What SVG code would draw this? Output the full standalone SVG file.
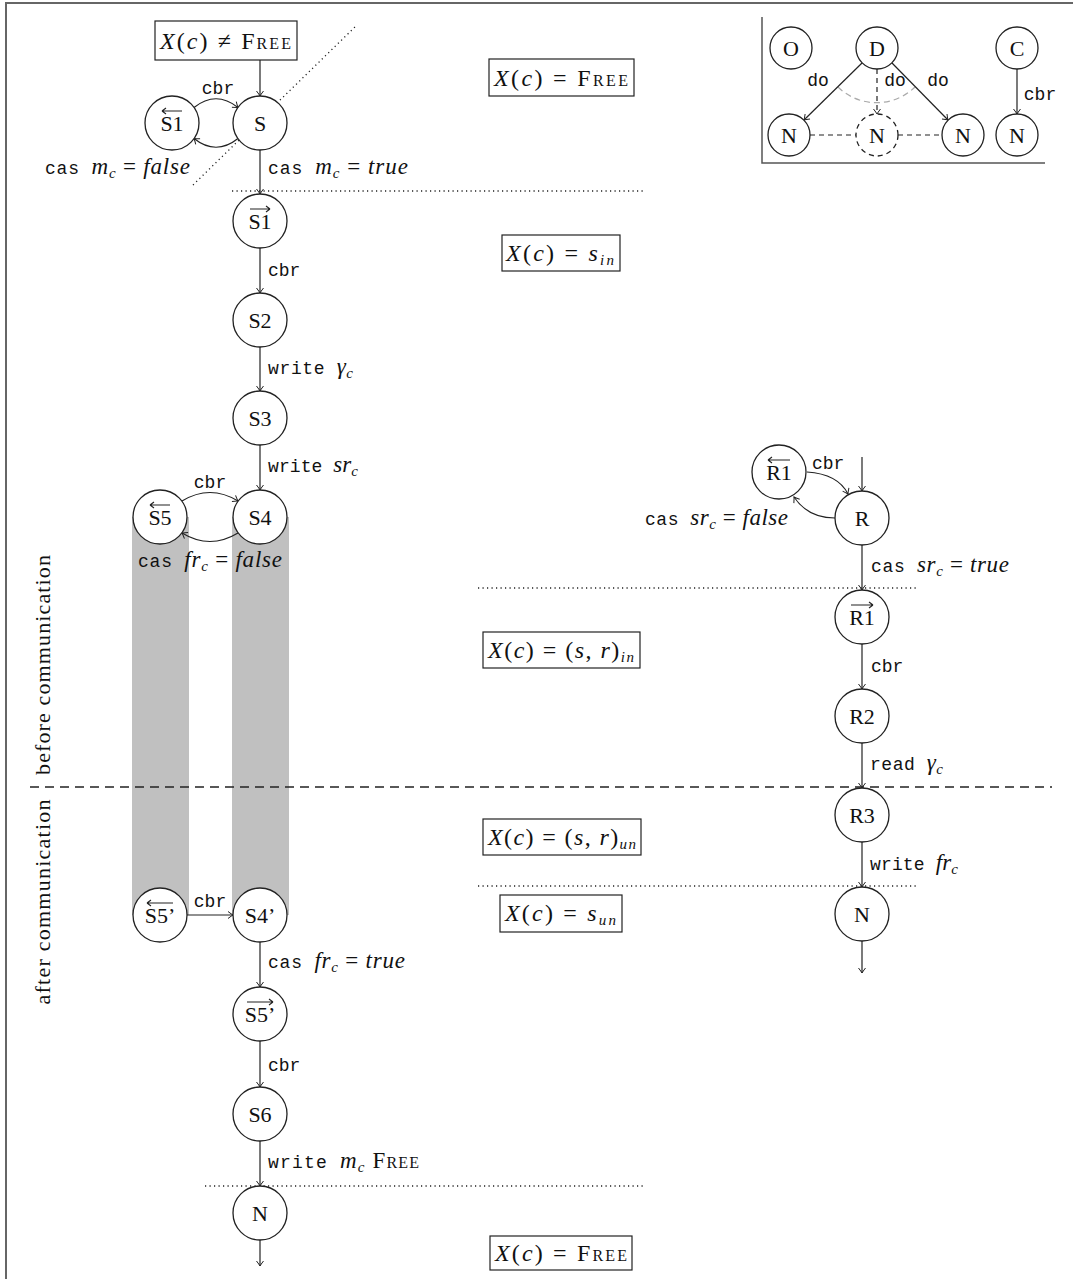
<svg xmlns="http://www.w3.org/2000/svg" width="1073" height="1279" viewBox="0 0 1073 1279">
<style>
.nd{fill:#fff;stroke:#222;stroke-width:1.3}
.ndd{fill:#fff;stroke:#222;stroke-width:1.3;stroke-dasharray:5 4}
.nl{font-family:"Liberation Serif","DejaVu Serif",serif;font-size:22px;fill:#111;text-anchor:middle}
.ed{fill:none;stroke:#222;stroke-width:1.2;marker-end:url(#ah)}
.edd{fill:none;stroke:#222;stroke-width:1.2;stroke-dasharray:5 4}
.dot{fill:none;stroke:#222;stroke-width:1.3;stroke-dasharray:1.2 3.3}
.dash{fill:none;stroke:#222;stroke-width:1.4;stroke-dasharray:9 6}
.oa{fill:none;stroke:#222;stroke-width:1.1}
.mono{font-family:"Liberation Mono","DejaVu Sans Mono",monospace;font-size:18px;fill:#111}
.lb{font-family:"Liberation Serif","DejaVu Serif",serif;font-size:23px;fill:#111}
.rot{font-family:"Liberation Serif","DejaVu Serif",serif;font-size:22px;fill:#111}
.bx{font-family:"Liberation Serif","DejaVu Serif",serif;font-size:24px;fill:#111}
.it{font-style:italic}
.sub{font-size:15px}
.sc{font-size:16px}
.box{fill:#fff;stroke:#222;stroke-width:1.2}
.bar{fill:#c0c0c0}
.frame{fill:none;stroke:#666;stroke-width:2}
</style>
<defs>
<marker id="ah" viewBox="-6 -5 8 10" markerWidth="8" markerHeight="10" refX="0" refY="0" orient="auto" markerUnits="userSpaceOnUse">
<path d="M-5,-3.5 Q-1.5,-0.8 0,0 Q-1.5,0.8 -5,3.5" fill="none" stroke="#222" stroke-width="1"/>
</marker>
</defs>

<path class="frame" d="M6,1279 V3 H1073"/>

<g id="bars">
<rect class="bar" x="132" y="517" width="57" height="398"/>
<rect class="bar" x="232" y="517" width="57" height="398"/>
</g>

<g id="separators">
<path class="dot" d="M193,185 L357,25"/>
<path class="dot" d="M232,191 H643"/>
<path class="dot" d="M478,588 H918"/>
<path class="dot" d="M478,886 H918"/>
<path class="dot" d="M205,1186 H643"/>
<path class="dash" d="M30,787 H1052"/>
</g>

<g id="legend-frame">
<path d="M762,17 V163 H1045" fill="none" stroke="#555" stroke-width="1.5"/>
<path d="M838,87 A55,55 0 0 0 915,87" fill="none" stroke="#aaa" stroke-width="1.2" stroke-dasharray="6 4"/>
</g>

<g id="connectors">
<path class="ed" d="M260,60 V96"/>
<path class="ed" d="M194,107.5 Q216,90 238,107.5"/>
<path class="ed" d="M238,138.5 Q216,156 194,138.5"/>
<path class="ed" d="M260,150 V194"/>
<path class="ed" d="M260,248 V293"/>
<path class="ed" d="M260,347 V391"/>
<path class="ed" d="M260,445 V490"/>
<path class="ed" d="M182,501 Q210,484 238,501"/>
<path class="ed" d="M238,533 Q210,550 182,533"/>
<path class="ed" d="M187,915 H233"/>
<path class="ed" d="M260,942 V987"/>
<path class="ed" d="M260,1041 V1087"/>
<path class="ed" d="M260,1141 V1186"/>
<path class="ed" d="M260,1240 V1266"/>
<path class="ed" d="M862,457 V491"/>
<path class="ed" d="M807,472 Q838,474 848,494"/>
<path class="ed" d="M835,518 Q808,518 794,497"/>
<path class="ed" d="M862,545 V590"/>
<path class="ed" d="M862,644 V689"/>
<path class="ed" d="M862,743 V788"/>
<path class="ed" d="M862,842 V887"/>
<path class="ed" d="M862,941 V973"/>
<path class="ed" d="M862,63 L804,120"/>
<path class="ed" d="M892,63 L948,120"/>
<path class="ed" d="M877,69 V114" stroke-dasharray="5 4"/>
<path class="ed" d="M1017,69 V114"/>
<path class="edd" d="M810,135 H856"/>
<path class="edd" d="M898,135 H942"/>
</g>

<g id="edge-labels">
<text class="mono" x="218" y="94" text-anchor="middle">cbr</text>
<text class="mono" x="45" y="174" textLength="145" lengthAdjust="spacing">cas <tspan class="lb it">m</tspan><tspan class="lb it sub" dy="4">c</tspan><tspan class="lb" dy="-4"> = </tspan><tspan class="lb it">false</tspan></text>
<text class="mono" x="268" y="174" textLength="140" lengthAdjust="spacing">cas <tspan class="lb it">m</tspan><tspan class="lb it sub" dy="4">c</tspan><tspan class="lb" dy="-4"> = </tspan><tspan class="lb it">true</tspan></text>
<text class="mono" x="268" y="276">cbr</text>
<text class="mono" x="268" y="374" textLength="85" lengthAdjust="spacing">write <tspan class="lb it">γ</tspan><tspan class="lb it sub" dy="4">c</tspan></text>
<text class="mono" x="268" y="472" textLength="90" lengthAdjust="spacing">write <tspan class="lb it">sr</tspan><tspan class="lb it sub" dy="4">c</tspan></text>
<text class="mono" x="210" y="488" text-anchor="middle">cbr</text>
<text class="mono" x="138" y="567" textLength="144" lengthAdjust="spacing">cas <tspan class="lb it">fr</tspan><tspan class="lb it sub" dy="4">c</tspan><tspan class="lb" dy="-4"> = </tspan><tspan class="lb it">false</tspan></text>
<text class="mono" x="210" y="907" text-anchor="middle">cbr</text>
<text class="mono" x="268" y="968" textLength="137" lengthAdjust="spacing">cas <tspan class="lb it">fr</tspan><tspan class="lb it sub" dy="4">c</tspan><tspan class="lb" dy="-4"> = </tspan><tspan class="lb it">true</tspan></text>
<text class="mono" x="268" y="1071">cbr</text>
<text class="mono" x="268" y="1168" textLength="151" lengthAdjust="spacing">write <tspan class="lb it">m</tspan><tspan class="lb it sub" dy="4">c</tspan><tspan class="lb" dy="-4"> F</tspan><tspan class="lb sc">REE</tspan></text>
<text class="mono" x="812" y="469">cbr</text>
<text class="mono" x="645" y="525" textLength="143" lengthAdjust="spacing">cas <tspan class="lb it">sr</tspan><tspan class="lb it sub" dy="4">c</tspan><tspan class="lb" dy="-4"> = </tspan><tspan class="lb it">false</tspan></text>
<text class="mono" x="871" y="572" textLength="138" lengthAdjust="spacing">cas <tspan class="lb it">sr</tspan><tspan class="lb it sub" dy="4">c</tspan><tspan class="lb" dy="-4"> = </tspan><tspan class="lb it">true</tspan></text>
<text class="mono" x="871" y="672">cbr</text>
<text class="mono" x="870" y="770" textLength="73" lengthAdjust="spacing">read <tspan class="lb it">γ</tspan><tspan class="lb it sub" dy="4">c</tspan></text>
<text class="mono" x="870" y="870" textLength="88" lengthAdjust="spacing">write <tspan class="lb it">fr</tspan><tspan class="lb it sub" dy="4">c</tspan></text>
<text class="mono" x="818" y="86" text-anchor="middle">do</text>
<text class="mono" x="895" y="86" text-anchor="middle">do</text>
<text class="mono" x="938" y="86" text-anchor="middle">do</text>
<text class="mono" x="1040" y="100" text-anchor="middle">cbr</text>
</g>

<g id="phase-labels">
<text class="rot" transform="translate(50,665) rotate(-90)" text-anchor="middle" textLength="220" lengthAdjust="spacing">before communication</text>
<text class="rot" transform="translate(50,902) rotate(-90)" text-anchor="middle" textLength="205" lengthAdjust="spacing">after communication</text>
</g>

<g id="box-notfree">
<rect class="box" x="155" y="21" width="142" height="39"/>
<text class="bx" x="160" y="49" textLength="131" lengthAdjust="spacing"><tspan class="it">X</tspan>(<tspan class="it">c</tspan>) ≠ F<tspan class="sc">REE</tspan></text>
</g>
<g id="box-free-top">
<rect class="box" x="489" y="59" width="145" height="37"/>
<text class="bx" x="494" y="86" textLength="134" lengthAdjust="spacing"><tspan class="it">X</tspan>(<tspan class="it">c</tspan>) = F<tspan class="sc">REE</tspan></text>
</g>
<g id="box-sin">
<rect class="box" x="502" y="235" width="118" height="36"/>
<text class="bx" x="506" y="261" textLength="108" lengthAdjust="spacing"><tspan class="it">X</tspan>(<tspan class="it">c</tspan>) = <tspan class="it">s</tspan><tspan class="it sub" dy="4">in</tspan></text>
</g>
<g id="box-srin">
<rect class="box" x="483" y="632" width="157" height="36"/>
<text class="bx" x="488" y="658" textLength="146" lengthAdjust="spacing"><tspan class="it">X</tspan>(<tspan class="it">c</tspan>) = (<tspan class="it">s</tspan>, <tspan class="it">r</tspan>)<tspan class="it sub" dy="4">in</tspan></text>
</g>
<g id="box-srun">
<rect class="box" x="483" y="819" width="158" height="36"/>
<text class="bx" x="488" y="845" textLength="148" lengthAdjust="spacing"><tspan class="it">X</tspan>(<tspan class="it">c</tspan>) = (<tspan class="it">s</tspan>, <tspan class="it">r</tspan>)<tspan class="it sub" dy="4">un</tspan></text>
</g>
<g id="box-sun">
<rect class="box" x="500" y="895" width="122" height="37"/>
<text class="bx" x="505" y="921" textLength="111" lengthAdjust="spacing"><tspan class="it">X</tspan>(<tspan class="it">c</tspan>) = <tspan class="it">s</tspan><tspan class="it sub" dy="4">un</tspan></text>
</g>
<g id="box-free-bottom">
<rect class="box" x="490" y="1236" width="142" height="34"/>
<text class="bx" x="495" y="1261" textLength="132" lengthAdjust="spacing"><tspan class="it">X</tspan>(<tspan class="it">c</tspan>) = F<tspan class="sc">REE</tspan></text>
</g>

<g id="node-S"><circle class="nd" cx="260" cy="123" r="27"/><text class="nl" x="260" y="131">S</text></g>
<g id="node-S1-back"><circle class="nd" cx="172" cy="123" r="27"/><text class="nl" x="172" y="131">S1</text><path class="oa" d="M162,111 H182 M162,111 l4,-3 M162,111 l4,3"/></g>
<g id="node-S1-fwd"><circle class="nd" cx="260" cy="221" r="27"/><text class="nl" x="260" y="229">S1</text><path class="oa" d="M250,209 H270 M270,209 l-4,-3 M270,209 l-4,3"/></g>
<g id="node-S2"><circle class="nd" cx="260" cy="320" r="27"/><text class="nl" x="260" y="328">S2</text></g>
<g id="node-S3"><circle class="nd" cx="260" cy="418" r="27"/><text class="nl" x="260" y="426">S3</text></g>
<g id="node-S4"><circle class="nd" cx="260" cy="517" r="27"/><text class="nl" x="260" y="525">S4</text></g>
<g id="node-S5-back"><circle class="nd" cx="160" cy="517" r="27"/><text class="nl" x="160" y="525">S5</text><path class="oa" d="M150,505 H170 M150,505 l4,-3 M150,505 l4,3"/></g>
<g id="node-S5p-back"><circle class="nd" cx="160" cy="915" r="27"/><text class="nl" x="160" y="923">S5’</text><path class="oa" d="M147,903 H173 M147,903 l4,-3 M147,903 l4,3"/></g>
<g id="node-S4p"><circle class="nd" cx="260" cy="915" r="27"/><text class="nl" x="260" y="923">S4’</text></g>
<g id="node-S5p-fwd"><circle class="nd" cx="260" cy="1014" r="27"/><text class="nl" x="260" y="1022">S5’</text><path class="oa" d="M247,1002 H273 M273,1002 l-4,-3 M273,1002 l-4,3"/></g>
<g id="node-S6"><circle class="nd" cx="260" cy="1114" r="27"/><text class="nl" x="260" y="1122">S6</text></g>
<g id="node-N-S"><circle class="nd" cx="260" cy="1213" r="27"/><text class="nl" x="260" y="1221">N</text></g>

<g id="node-R"><circle class="nd" cx="862" cy="518" r="27"/><text class="nl" x="862" y="526">R</text></g>
<g id="node-R1-back"><circle class="nd" cx="779" cy="472" r="27"/><text class="nl" x="779" y="480">R1</text><path class="oa" d="M768,460 H790 M768,460 l4,-3 M768,460 l4,3"/></g>
<g id="node-R1-fwd"><circle class="nd" cx="862" cy="617" r="27"/><text class="nl" x="862" y="625">R1</text><path class="oa" d="M851,605 H873 M873,605 l-4,-3 M873,605 l-4,3"/></g>
<g id="node-R2"><circle class="nd" cx="862" cy="716" r="27"/><text class="nl" x="862" y="724">R2</text></g>
<g id="node-R3"><circle class="nd" cx="862" cy="815" r="27"/><text class="nl" x="862" y="823">R3</text></g>
<g id="node-N-R"><circle class="nd" cx="862" cy="914" r="27"/><text class="nl" x="862" y="922">N</text></g>

<g id="legend-O"><circle class="nd" cx="791" cy="48" r="21"/><text class="nl" x="791" y="56">O</text></g>
<g id="legend-D"><circle class="nd" cx="877" cy="48" r="21"/><text class="nl" x="877" y="56">D</text></g>
<g id="legend-C"><circle class="nd" cx="1017" cy="48" r="21"/><text class="nl" x="1017" y="56">C</text></g>
<g id="legend-N1"><circle class="nd" cx="789" cy="135" r="21"/><text class="nl" x="789" y="143">N</text></g>
<g id="legend-N2"><circle class="ndd" cx="877" cy="135" r="21"/><text class="nl" x="877" y="143">N</text></g>
<g id="legend-N3"><circle class="nd" cx="963" cy="135" r="21"/><text class="nl" x="963" y="143">N</text></g>
<g id="legend-N4"><circle class="nd" cx="1017" cy="135" r="21"/><text class="nl" x="1017" y="143">N</text></g>
</svg>
